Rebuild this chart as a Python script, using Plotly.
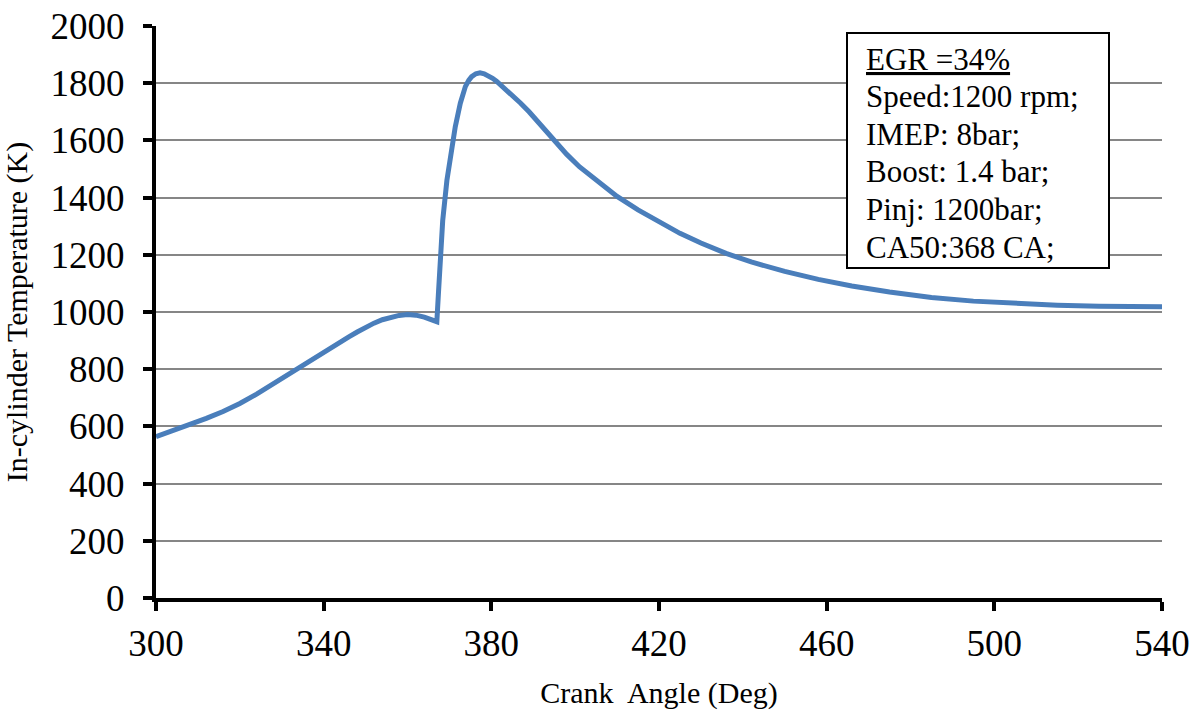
import plotly.graph_objects as go

# Crank angle (deg) and in-cylinder temperature (K)
crank_angle = [300, 304, 308, 312, 316, 320, 324, 328, 332, 336, 340, 342, 344,
               346, 348, 350, 352, 354, 356, 358, 360, 362, 364, 366, 367,
               367.4, 367.8, 368.4, 369.4, 370.3, 371.4, 372.6, 373.8, 374.6,
               375.3, 376.3, 377.3, 378.3, 379.3, 380.3, 381.3, 383, 385, 387,
               389, 391, 393, 395, 398, 401, 405, 410, 415, 420, 425, 430, 436,
               442, 450, 458, 466, 475, 485, 495, 505, 515, 525, 540]
temperature = [564, 584, 605, 628, 652, 680, 713, 750, 788, 825, 862, 879, 896,
               913, 930, 946, 961, 973, 982, 988, 991, 989, 982, 972, 966,
               1070, 1180, 1320, 1460, 1550, 1648, 1730, 1788, 1810,
               1823, 1833, 1836, 1833, 1826, 1817, 1806, 1785, 1758, 1730,
               1700, 1666, 1630, 1596, 1551, 1508, 1460, 1404, 1357, 1314, 1275,
               1241, 1205, 1175, 1142, 1114, 1091, 1070, 1051, 1038, 1030, 1024,
               1020, 1018]

x_ticks = [300, 340, 380, 420, 460, 500, 540]
y_ticks = [0, 200, 400, 600, 800, 1000, 1200, 1400, 1600, 1800, 2000]

box_lines = ["<u>EGR =34%</u>", "Speed:1200 rpm;", "IMEP: 8bar;",
             "Boost: 1.4 bar;", "Pinj: 1200bar;", "CA50:368 CA;"]

FONT = "Liberation Serif"

W, H = 1198, 711
L, R, T, B = 156, 36, 26, 113
pw, ph = W - L - R, H - T - B


def px_x(p):
    return (p - L) / pw


def px_y(p):
    return (H - B - p) / ph


fig = go.Figure()
fig.add_trace(go.Scatter(
    x=crank_angle, y=temperature, mode="lines",
    line=dict(color="#4A7EBB", width=5),
    showlegend=False, hoverinfo="x+y",
))

fig.update_layout(
    width=W, height=H,
    margin=dict(l=L, r=R, t=T, b=B, pad=0, autoexpand=False),
    paper_bgcolor="white", plot_bgcolor="white",
    font=dict(family=FONT, color="black"),
    xaxis=dict(
        range=[300, 540], tickvals=x_ticks, showgrid=False, zeroline=False,
        automargin=False,
        showline=True, linecolor="black", linewidth=4,
        ticks="outside", ticklen=9, tickwidth=3.5, tickcolor="black",
        tickfont=dict(size=37, family=FONT), ticklabelstandoff=1,
        title=dict(text="Crank  Angle (Deg)", font=dict(size=30, family=FONT),
                   standoff=20),
    ),
    yaxis=dict(
        range=[0, 2000], tickvals=y_ticks, showgrid=True,
        gridcolor="#868686", gridwidth=1.7, zeroline=False,
        automargin=False,
        showline=True, linecolor="black", linewidth=4,
        ticks="outside", ticklen=9, tickwidth=3.5, tickcolor="black",
        tickfont=dict(size=37, family=FONT), ticklabelstandoff=11,
        title=dict(text="In-cylinder Temperature (K)",
                   font=dict(size=30, family=FONT), standoff=19),
    ),
)

# Operating-condition box
fig.add_shape(type="rect", xref="paper", yref="paper",
              x0=px_x(847), x1=px_x(1109), y0=px_y(268), y1=px_y(33),
              line=dict(color="black", width=2), fillcolor="white", layer="above")

line_top, line_step = 59, 37.6
for i, txt in enumerate(box_lines):
    fig.add_annotation(
        xref="paper", yref="paper", x=px_x(864), y=px_y(line_top + i * line_step),
        xanchor="left", yanchor="middle", text=txt, showarrow=False,
        font=dict(size=31, family=FONT, color="black"), align="left",
    )

fig.write_html("out.html")
